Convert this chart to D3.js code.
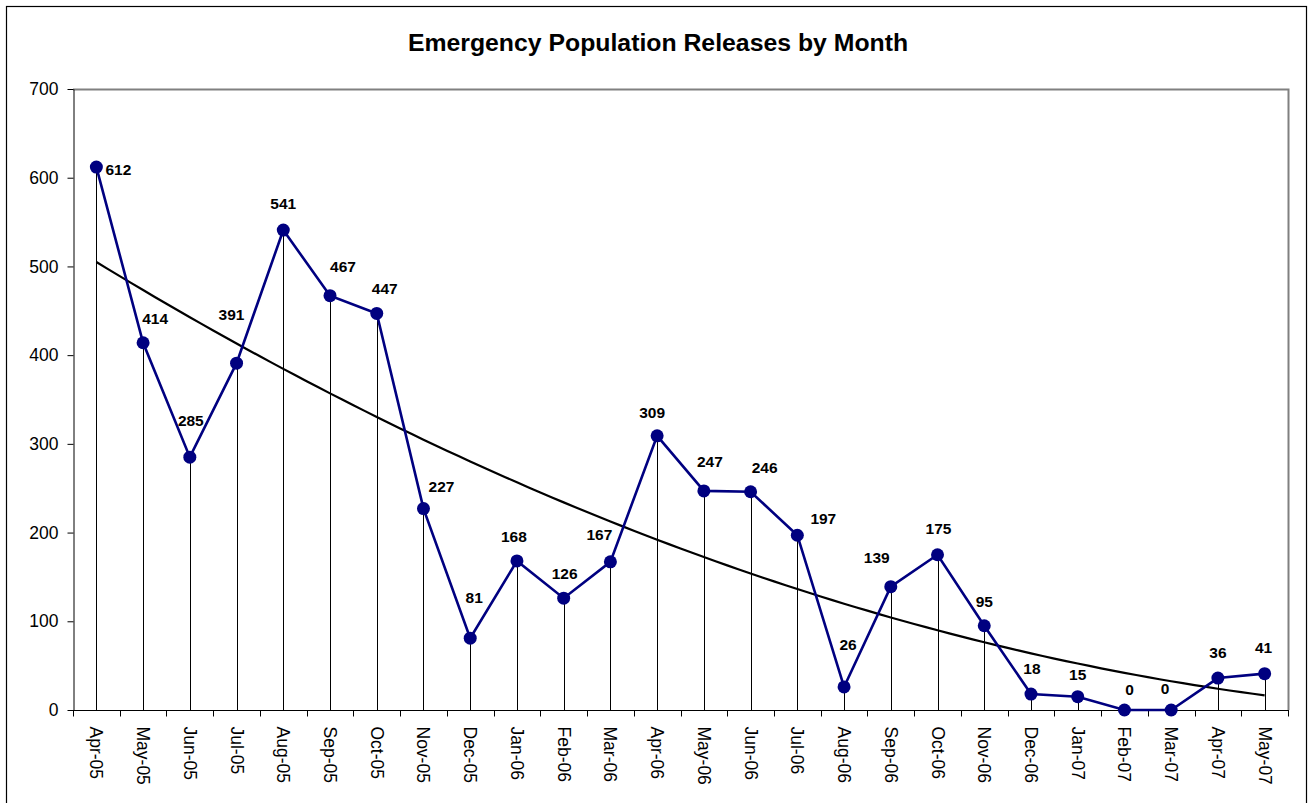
<!DOCTYPE html>
<html>
<head>
<meta charset="utf-8">
<script src="https://cdn.jsdelivr.net/npm/d3@7"></script>
<style>
  html, body { margin: 0; padding: 0; background: #fff; }
  svg { display: block; font-family: "Liberation Sans", Arial, sans-serif; }
</style>
</head>
<body>
<svg id="chart" width="1312" height="803"></svg>
<script>
// ---- Data ----
const months = ["Apr-05","May-05","Jun-05","Jul-05","Aug-05","Sep-05","Oct-05","Nov-05","Dec-05",
  "Jan-06","Feb-06","Mar-06","Apr-06","May-06","Jun-06","Jul-06","Aug-06","Sep-06","Oct-06","Nov-06",
  "Dec-06","Jan-07","Feb-07","Mar-07","Apr-07","May-07"];
const releases = [612,414,285,391,541,467,447,227,81,168,126,167,309,247,246,197,26,139,175,95,18,15,0,0,36,41];
const yTicks = [0,100,200,300,400,500,600,700];
const title = "Emergency Population Releases by Month";

// label nudges (layout only, px relative to point)
const labelNudge = [[22,2],[12,-24],[1,-37],[-5,-49],[0,-27],[13,-29],[8,-25],[18,-22],[4,-41],[-3,-25],
  [1,-25],[-11,-27],[-5,-23],[6,-29],[14,-24],[26,-17],[4,-43],[-14,-29],[1,-26],[0,-24],
  [1,-26],[0,-22],[5,-21],[-6,-22],[0,-26],[-1,-26]];

// ---- Layout ----
const svg = d3.select("#chart");
const plot = {left: 73, top: 89, right: 1288, bottom: 710};

svg.append("rect").attr("x", 6.5).attr("y", 6.5).attr("width", 1300).attr("height", 820)
  .attr("fill", "#fff").attr("stroke", "#000").attr("stroke-width", 1.2);

svg.append("text").attr("x", 658).attr("y", 51).attr("text-anchor", "middle")
  .attr("font-size", 24.8).attr("font-weight", "bold").attr("fill", "#000").text(title);

const x = d3.scalePoint().domain(months).range([plot.left, plot.right]).padding(0.5);
const xBand = d3.scaleBand().domain(months).range([plot.left, plot.right]);
const y = d3.scaleLinear().domain([0, 700]).range([plot.bottom, plot.top]);

// plot area border (top/right gray)
svg.append("path")
  .attr("d", `M${plot.left},${plot.top + 0.5}H${plot.right + 0.5}V${plot.bottom}`)
  .attr("fill", "none").attr("stroke", "#808080").attr("stroke-width", 2);

// Y axis
const yAxis = d3.axisLeft(y).tickValues(yTicks).tickSize(6).tickPadding(9).tickSizeOuter(0);
const gy = svg.append("g").attr("transform", `translate(${plot.left + 0.5},0)`).call(yAxis);
gy.selectAll("text").attr("font-size", 17.5).attr("fill", "#000").attr("font-family", "Liberation Sans, Arial, sans-serif");
gy.selectAll("line,path").attr("stroke", "#000");

// X axis ticks at band boundaries
const gx = svg.append("g").attr("transform", `translate(0,${plot.bottom + 0.5})`);
gx.append("line").attr("x1", plot.left).attr("x2", plot.right + 1).attr("stroke", "#000");
const edges = months.map(m => xBand(m)).concat([plot.right]);
gx.selectAll("line.tk").data(edges).join("line").attr("class", "tk")
  .attr("x1", d => Math.round(d) + 0.5).attr("x2", d => Math.round(d) + 0.5)
  .attr("y1", 0).attr("y2", 6).attr("stroke", "#000");
gx.selectAll("text").data(months).join("text")
  .attr("transform", d => `translate(${x(d) - 6},${16}) rotate(90)`)
  .attr("text-anchor", "start").attr("font-size", 17.5).attr("fill", "#000")
  .text(d => d);

// drop lines
svg.append("g").selectAll("line").data(releases).join("line")
  .attr("x1", (d, i) => Math.round(x(months[i])) + 0.5).attr("x2", (d, i) => Math.round(x(months[i])) + 0.5)
  .attr("y1", d => y(d)).attr("y2", plot.bottom)
  .attr("stroke", "#000").attr("stroke-width", 1);

// polynomial (order 2) least-squares trendline computed from data
function quadFit(ys) {
  let s = [0,0,0,0,0], t = [0,0,0];
  ys.forEach((v, i) => {
    const xi = i + 1;
    for (let k = 0; k < 5; k++) s[k] += Math.pow(xi, k);
    for (let k = 0; k < 3; k++) t[k] += v * Math.pow(xi, k);
  });
  const A = [[s[0],s[1],s[2],t[0]],[s[1],s[2],s[3],t[1]],[s[2],s[3],s[4],t[2]]];
  for (let c = 0; c < 3; c++) {
    for (let r = c + 1; r < 3; r++) {
      const f = A[r][c] / A[c][c];
      for (let k = c; k < 4; k++) A[r][k] -= f * A[c][k];
    }
  }
  const co = [0,0,0];
  for (let r = 2; r >= 0; r--) {
    let v = A[r][3];
    for (let k = r + 1; k < 3; k++) v -= A[r][k] * co[k];
    co[r] = v / A[r][r];
  }
  return xi => co[0] + co[1] * xi + co[2] * xi * xi;
}
const trend = quadFit(releases);
const step = x.step();
const x0 = x(months[0]);
const trendPts = d3.range(1, releases.length + 0.001, 0.25).map(xi => [x0 + (xi - 1) * step, y(trend(xi))]);
svg.append("path").attr("d", d3.line()(trendPts))
  .attr("fill", "none").attr("stroke", "#000").attr("stroke-width", 2.2);

// series line
svg.append("path")
  .attr("d", d3.line().x((d, i) => x(months[i])).y(d => y(d))(releases))
  .attr("fill", "none").attr("stroke", "#000080").attr("stroke-width", 2.6);

svg.append("g").selectAll("circle").data(releases).join("circle")
  .attr("cx", (d, i) => x(months[i])).attr("cy", d => y(d)).attr("r", 6.5)
  .attr("fill", "#000080");

// data labels
svg.append("g").selectAll("text").data(releases).join("text")
  .attr("x", (d, i) => x(months[i]) + labelNudge[i][0])
  .attr("y", (d, i) => y(d) + labelNudge[i][1])
  .attr("dy", "0.36em").attr("text-anchor", "middle")
  .attr("font-size", 15.5).attr("font-weight", "bold").attr("fill", "#000")
  .text(d => d);
</script>
</body>
</html>
